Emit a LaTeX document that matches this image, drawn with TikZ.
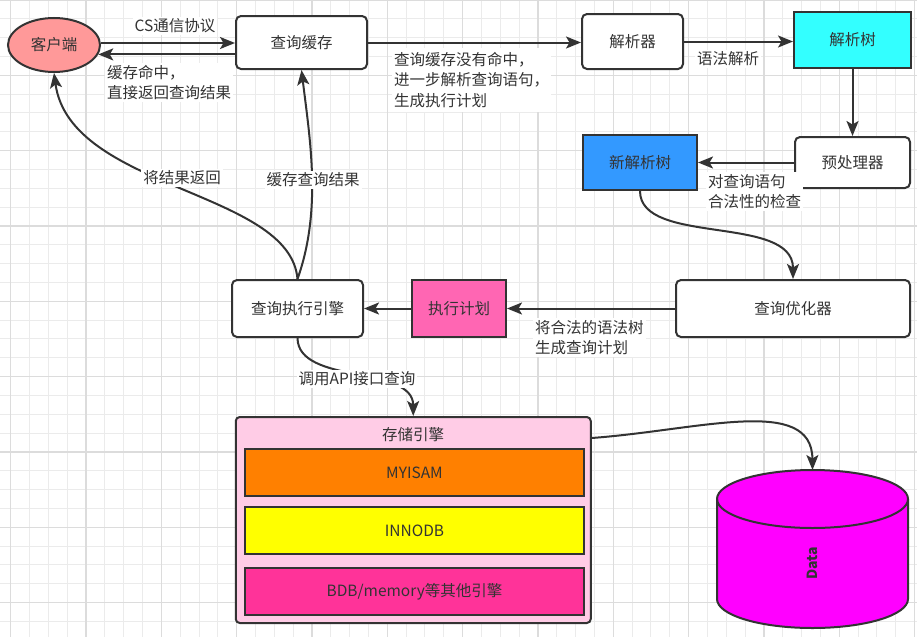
\documentclass[tikz,border=0pt]{standalone}
\usepackage{fontspec}
\setmainfont{Noto Sans CJK SC}
\usetikzlibrary{arrows.meta,calc,shapes.geometric}
\definecolor{lc}{HTML}{333333}
\definecolor{gminor}{HTML}{EBEBEB}
\definecolor{gmajor}{HTML}{DCDCDC}
\definecolor{clientc}{HTML}{FF9999}
\definecolor{cyanb}{HTML}{33FFFF}
\definecolor{blueb}{HTML}{3399FF}
\definecolor{pinkb}{HTML}{FF66B3}
\definecolor{stor}{HTML}{FFCCE6}
\definecolor{orab}{HTML}{FF8000}
\definecolor{yelb}{HTML}{FFFF00}
\definecolor{rosb}{HTML}{FF3399}
\definecolor{magb}{HTML}{FF00FF}
\begin{document}
\begin{tikzpicture}[x=1pt,y=1pt,
  every node/.style={text=lc},
  txt/.style={font=\fontsize{15.5}{20.5}\selectfont},
  rbox/.style={txt, draw=lc, line width=2pt, rounded corners=5pt, fill=white, inner sep=0pt},
  sbox/.style={txt, draw=lc, line width=2pt, inner sep=0pt},
  arr/.style={draw=lc, line width=2pt, -{Stealth[length=15pt,width=12pt,inset=3.5pt]}},
  lbl/.style={txt, fill=white, inner sep=2pt, align=left},
  gmin/.style={draw=gminor, line width=1pt},
  gmaj/.style={draw=gmajor, line width=1.2pt}
]
\useasboundingbox[fill=white] (0,0) rectangle (917,-637);
% grid
\foreach \i in {0,...,49} {\draw[gmin] ({-8.13+\i*18.83},0) -- ({-8.13+\i*18.83},-637);}
\foreach \i in {0,...,34} {\draw[gmin] (0,{-\i*18.83}) -- (917,{-\i*18.83});}
\foreach \i in {0,...,12} {\draw[gmaj] ({10.7+\i*75.32},0) -- ({10.7+\i*75.32},-637);}
\foreach \i in {0,...,8} {\draw[gmaj] (0,{-\i*75.32}) -- (917,{-\i*75.32});}

% nodes
\node[ellipse, draw=lc, line width=2pt, fill=clientc, minimum width=92pt, minimum height=54pt, inner sep=0pt, txt] (client) at (54,-45) {客户端};
\node[rbox, minimum width=131pt, minimum height=53pt] (cache) at (301.5,-42.5) {查询缓存};
\node[rbox, minimum width=101pt, minimum height=55pt] (parser) at (632.5,-41.5) {解析器};
\node[sbox, fill=cyanb, minimum width=117pt, minimum height=56pt] (tree) at (852.5,-40) {解析树};
\node[rbox, minimum width=115pt, minimum height=51pt] (pre) at (852.5,-162.5) {预处理器};
\node[sbox, fill=blueb, minimum width=114pt, minimum height=55pt] (newtree) at (640,-162.5) {新解析树};
\node[rbox, minimum width=234pt, minimum height=57pt] (opt) at (793,-308.5) {查询优化器};
\node[sbox, fill=pinkb, minimum width=94pt, minimum height=57pt] (plan) at (459,-308.5) {执行计划};
\node[rbox, minimum width=131pt, minimum height=57pt] (exec) at (297.5,-308.5) {查询执行引擎};

\node[draw=lc, line width=2pt, rounded corners=4pt, fill=stor, minimum width=355pt, minimum height=206pt] (storage) at (413.25,-520) {};
\node[txt] (stitle) at (413,-435) {存储引擎};
\node[sbox, fill=orab, minimum width=339pt, minimum height=47pt] (myisam) at (414.5,-472.5) {MYISAM};
\node[sbox, fill=yelb, minimum width=339pt, minimum height=47pt] (innodb) at (414.5,-530.5) {INNODB};
\node[sbox, fill=rosb, minimum width=339pt, minimum height=47pt] (bdb) at (414.5,-591.5) {BDB/memory等其他引擎};

% cylinder
\draw[lc, line width=2pt, fill=magb] (717,-499) -- (717,-599) arc[start angle=180, end angle=360, x radius=95.5, y radius=29] -- (908,-499) arc[start angle=0, end angle=180, x radius=95.5, y radius=29] -- cycle;
\draw[lc, line width=2pt] (717,-499) arc[start angle=180, end angle=360, x radius=95.5, y radius=29];
\node[font=\bfseries\fontsize{14}{16}\selectfont, rotate=90] (data) at (812.5,-563) {Data};
\coordinate (cyltop) at (812.5,-470);

% connectors
\draw[arr] ([yshift=2pt]client.east) -- ([yshift=2pt]client.east -| cache.west);
\draw[arr] (cache.west |- client.-12) -- (client.-12);
\draw[arr] (cache.east) -- (cache.east -| parser.west);
\draw[arr] (parser.east) -- (parser.east -| tree.west);
\draw[arr] (tree.south) -- (pre.north);
\draw[arr] (pre.west) -- (newtree.east);
\draw[arr] (newtree.south) .. controls +(0,-55) and +(0,65) .. (opt.north);
\draw[arr] (opt.west) -- (plan.east);
\draw[arr] (plan.west) -- (exec.east);
\draw[arr] (exec.north) .. controls (290,-190) and (70,-190) .. (client.south);
\draw[arr] (exec.north) .. controls (322,-210) and (310,-140) .. (cache.south);
\draw[arr] (exec.south) .. controls (298,-385) and (413,-365) .. (storage.north);
\draw[arr] ($(storage.north east)+(0,-22)$) .. controls (700,-430) and (812,-395) .. (cyltop);

% labels
\node[lbl] (l1) at (175,-26) {CS通信协议};
\node[lbl, anchor=north west] (l2) at (105,-63) {缓存命中，\\直接返回查询结果};
\node[lbl, anchor=north west, inner ysep=4pt] (l3) at (392,-48) {查询缓存没有命中，\\进一步解析查询语句，\\生成执行计划};
\node[lbl] (l4) at (728,-59) {语法解析};
\node[lbl, anchor=north west] (l5) at (706,-172) {对查询语句\\合法性的检查};
\node[lbl, anchor=north west] (l6) at (533,-318) {将合法的语法树\\生成查询计划};
\node[lbl] (l7) at (357,-379) {调用API接口查询};
\node[lbl] (l8) at (182,-178) {将结果返回};
\node[lbl] (l9) at (313,-180) {缓存查询结果};
\end{tikzpicture}
\end{document}
